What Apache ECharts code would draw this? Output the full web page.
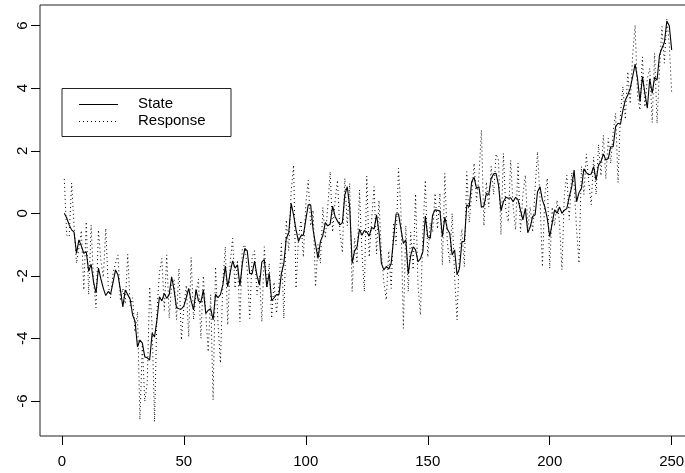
<!DOCTYPE html>
<html>

<head>
    <meta charset="UTF-8">
    <script src="https://cdn.jsdelivr.net/npm/echarts@6.0.0/dist/echarts.min.js"></script>
    <style>
        html, body { margin: 0; padding: 0; background: #fff; }
    </style>
</head>

<body>
    <div id="main" style="width: 685px; height: 473px;"></div>
    <script>
        // values, t = 1..250
        var stateVals = [
            0.00, -0.15, -0.37, -0.53, -0.60, -1.28, -0.85, -1.05, -1.28, -1.23,
            -1.85, -1.63, -2.20, -2.55, -1.75, -2.10, -2.40, -2.63, -2.50, -2.58,
            -2.20, -1.81, -1.97, -2.45, -2.99, -2.45, -2.60, -2.75, -3.25, -3.45,
            -4.27, -4.05, -4.15, -4.59, -4.62, -4.69, -3.84, -3.95, -3.40, -2.67,
            -2.80, -2.56, -2.72, -2.60, -2.03, -2.45, -3.02, -3.05, -3.06, -2.97,
            -2.70, -2.40, -2.80, -3.09, -2.43, -2.80, -2.85, -2.45, -3.20, -3.10,
            -3.05, -3.41, -2.59, -2.70, -2.60, -2.29, -1.69, -2.35, -1.90, -1.52,
            -1.75, -1.65, -2.32, -1.60, -1.12, -1.20, -1.92, -1.93, -1.53, -2.00,
            -2.29, -1.55, -1.48, -2.35, -1.92, -2.79, -2.70, -2.60, -2.60, -1.92,
            -1.60, -0.80, -0.64, 0.32, -0.06, -0.53, -0.90, -0.72, -0.70, -0.21,
            0.27, 0.27, -0.53, -1.00, -1.44, -0.90, -0.70, -0.30, -0.40, -0.34,
            0.23, -0.10, -0.25, -0.37, -0.30, 0.59, 0.85, 0.20, -1.60, -1.20,
            -1.08, -0.51, -0.70, -0.55, -0.60, -0.73, -0.45, -0.50, -0.05, -0.60,
            -1.60, -1.81, -1.70, -1.78, -1.60, -0.80, -0.02, -0.02, -0.50, -0.96,
            -0.85, -1.94, -1.35, -1.07, -1.17, -1.55, -1.45, -1.22, -0.09, -0.75,
            -0.80, -0.05, 0.11, 0.10, 0.07, -0.75, -0.12, -0.50, -0.64, -1.33,
            -1.17, -1.97, -1.76, -0.90, -0.90, 0.27, 0.21, 1.01, 1.15, 0.80,
            0.85, 0.19, 0.23, 0.63, 0.60, 1.12, 1.26, 1.28, 0.90, 0.08,
            0.37, 0.51, 0.48, 0.50, 0.37, 0.51, 0.44, 0.10, -0.21, 0.16,
            -0.62, -0.43, -0.10, -0.05, 0.69, 0.85, 0.42, 0.20, -0.17, -0.75,
            -0.32, 0.11, 0.00, 0.20, 0.00, 0.10, 0.15, 0.53, 0.84, 1.38,
            0.37, 0.66, 0.80, 1.42, 1.30, 1.23, 1.26, 1.49, 1.05, 1.55,
            1.65, 1.90, 1.70, 1.75, 2.13, 2.13, 2.77, 2.88, 2.85, 3.30,
            3.62, 3.78, 4.00, 4.37, 4.77, 4.30, 3.57, 4.37, 3.84, 3.36,
            4.30, 3.84, 4.35, 4.26, 5.06, 5.28, 5.46, 6.15, 6.00, 5.22
        ];
        var responseVals = [
            1.10, -0.70, -0.75, 0.97, -0.40, -1.60, -1.10, -0.55, -2.45, -0.27,
            -2.60, -0.37, -2.20, -3.02, -0.53, -1.50, -2.05, -0.48, -2.30, -2.70,
            -1.90, -1.60, -1.33, -2.80, -2.40, -2.90, -1.31, -2.95, -2.70, -3.80,
            -3.15, -6.60, -4.20, -6.02, -5.43, -2.35, -3.60, -6.66, -3.10, -1.90,
            -1.44, -3.10, -1.33, -3.35, -2.30, -2.10, -3.40, -1.76, -4.05, -3.00,
            -2.30, -3.95, -1.41, -3.40, -2.60, -2.10, -4.00, -2.00, -3.20, -4.43,
            -2.60, -5.97, -1.71, -3.50, -4.79, -2.20, -1.07, -3.57, -1.60, -0.80,
            -2.40, -1.50, -3.47, -1.10, -1.00, -1.80, -3.36, -1.40, -1.20, -2.60,
            -2.00, -3.47, -1.07, -2.40, -1.60, -3.36, -2.20, -3.20, -2.30, -0.96,
            -3.36, -0.21, -1.20, 0.70, 1.54, -2.40, -0.80, -0.23, -1.40, 0.30,
            1.06, -0.40, 0.10, -2.35, -1.00, -1.60, 0.19, -0.80, 0.20, 1.33,
            -0.60, 0.40, 1.06, -0.60, -1.26, 1.12, -0.40, 0.96, -2.50, -0.80,
            -1.60, 0.75, -1.20, -2.50, 1.19, -1.40, -0.20, 0.85, -1.30, 0.42,
            -1.30, -2.20, -2.77, -1.20, -2.40, -0.30, -1.00, 1.44, 0.10, -3.68,
            -0.40, -2.50, -0.60, -1.80, 0.62, -2.30, -3.25, -0.60, 1.06, -1.40,
            -0.30, -0.60, 0.64, -0.50, 0.64, -1.65, 1.28, -0.90, -1.60, 0.00,
            -2.00, -3.41, -1.20, -0.50, -1.71, 1.33, -0.30, 0.60, 1.60, 0.40,
            1.20, 2.66, -0.40, 1.00, 0.20, 1.50, 0.60, 1.90, 1.70, -0.69,
            1.92, 0.10, -0.27, 1.70, 0.20, -0.53, 1.60, -0.59, 0.60, 1.22,
            -0.50, 0.20, -0.60, 0.80, 1.97, 0.50, -1.71, 0.60, 1.12, -1.76,
            0.20, -0.40, 0.42, -0.30, -1.81, 0.60, 1.22, -0.20, 1.30, 0.90,
            -0.50, -1.60, 1.50, 0.60, 1.90, 1.00, 0.27, 1.80, 0.60, 2.20,
            1.20, 2.50, 1.10, 2.40, 1.60, 2.60, 3.20, 0.98, 3.20, 4.05,
            3.00, 4.53, 3.50, 5.06, 6.02, 3.73, 3.30, 5.00, 3.40, 4.30,
            4.64, 2.90, 5.12, 2.88, 4.60, 5.97, 4.80, 6.20, 5.40, 3.84
        ];
        var xTicks = [0, 50, 100, 150, 200, 250];
        var yTicks = [-6, -4, -2, 0, 2, 4, 6];
        var legendNames = ['State', 'Response'];

        function pairs(vals) {
            var out = [];
            for (var i = 0; i < vals.length; i++) {
                out.push([i + 1, vals[i]]);
            }
            return out;
        }

        var font = 'Liberation Sans, Arial, Helvetica, sans-serif';
        var myChart = echarts.init(document.getElementById('main'));

        var option = {
            animation: false,
            backgroundColor: '#fff',
            grid: {
                left: 40,
                top: 5,
                width: 656,
                height: 431,
                show: true,
                borderColor: '#222',
                borderWidth: 1,
                containLabel: false,
                outerBoundsMode: 'none'
            },
            xAxis: {
                type: 'value',
                position: 'bottom',
                min: -8.96,
                max: 259.96,
                axisLine: { show: false, onZero: false },
                splitLine: { show: false },
                axisTick: {
                    show: true,
                    inside: false,
                    customValues: xTicks,
                    length: 9,
                    lineStyle: { color: '#000', width: 1 }
                },
                axisLabel: {
                    customValues: xTicks,
                    margin: 18,
                    color: '#000',
                    fontSize: 15,
                    fontFamily: font
                }
            },
            yAxis: {
                type: 'value',
                position: 'left',
                min: -7.12,
                max: 6.66,
                axisLine: { show: false, onZero: false },
                splitLine: { show: false },
                axisTick: {
                    show: true,
                    inside: false,
                    customValues: yTicks,
                    length: 9,
                    lineStyle: { color: '#000', width: 1 }
                },
                axisLabel: {
                    customValues: yTicks,
                    rotate: 90,
                    margin: 10,
                    color: '#000',
                    fontSize: 15,
                    fontFamily: font
                }
            },
            series: [
                {
                    name: legendNames[1],
                    type: 'line',
                    data: pairs(responseVals),
                    showSymbol: false,
                    symbol: 'none',
                    lineStyle: { color: '#000', width: 1, type: [1, 3] },
                    z: 2
                },
                {
                    name: legendNames[0],
                    type: 'line',
                    data: pairs(stateVals),
                    showSymbol: false,
                    symbol: 'none',
                    lineStyle: { color: '#000', width: 1.1 },
                    z: 3
                }
            ],
            // R style legend box
            graphic: [
                {
                    type: 'rect',
                    shape: { x: 62, y: 88.5, width: 169, height: 48 },
                    style: { fill: '#fff', stroke: '#222', lineWidth: 1 },
                    z: 10
                },
                {
                    type: 'line',
                    shape: { x1: 79, y1: 104.5, x2: 118, y2: 104.5 },
                    style: { stroke: '#000', lineWidth: 1 },
                    z: 11
                },
                {
                    type: 'line',
                    shape: { x1: 79, y1: 121.5, x2: 118, y2: 121.5 },
                    style: { stroke: '#000', lineWidth: 1, lineDash: [1, 3] },
                    z: 11
                },
                {
                    type: 'text',
                    x: 138, y: 104,
                    style: { text: legendNames[0], font: '15px ' + font, fill: '#000', verticalAlign: 'middle' },
                    z: 11
                },
                {
                    type: 'text',
                    x: 138, y: 121,
                    style: { text: legendNames[1], font: '15px ' + font, fill: '#000', verticalAlign: 'middle' },
                    z: 11
                }
            ]
        };

        myChart.setOption(option);
    </script>
</body>

</html>
